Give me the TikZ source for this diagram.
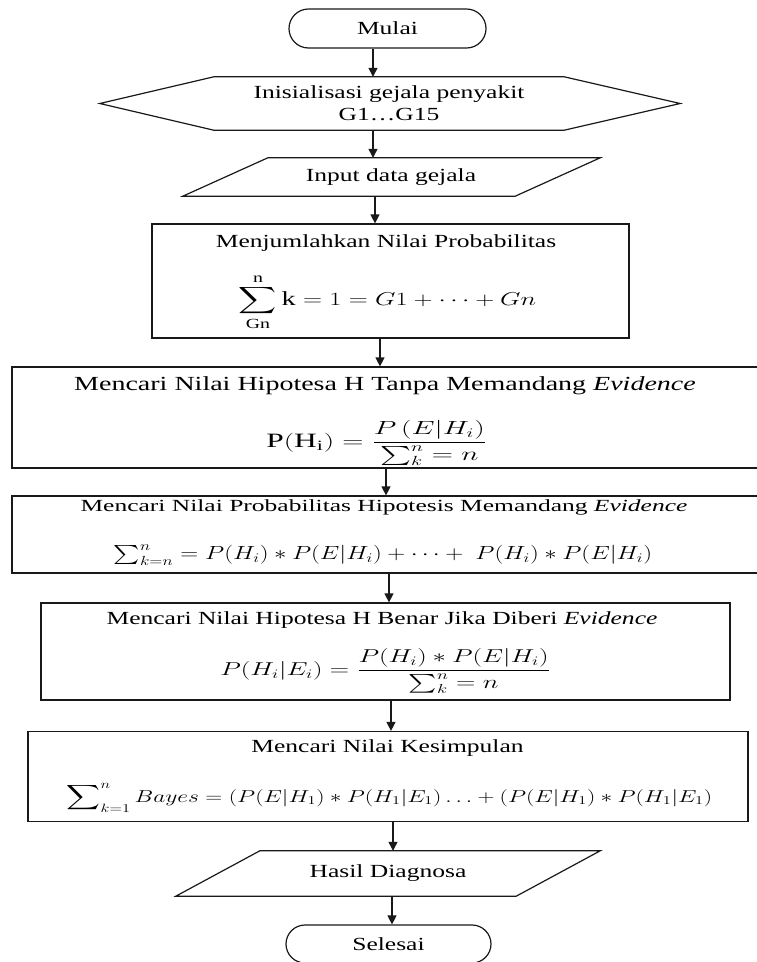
\documentclass[tikz,border=0pt]{standalone}
\usepackage{fontspec}
\usepackage{amsmath}
\usepackage{graphicx}
\setmainfont{Liberation Serif}
\usetikzlibrary{arrows.meta,calc,shapes.misc}
\newcommand{\sx}[1]{\scalebox{1.38}[1]{#1}}
\begin{document}
\begin{tikzpicture}[x=1pt,y=-1pt,
  lbl/.style={inner sep=0pt, font=\fontsize{18.5}{22}\selectfont},
  frame/.style={draw=black!90, line width=1.2pt, inner sep=0pt, font=\fontsize{18.5}{22}\selectfont},
  outline/.style={draw=black!90, line width=1.2pt, line join=miter},
  arr/.style={-{Triangle[length=9pt,width=9pt]}, line width=1.2pt, draw=black!90, fill=black!90},
]
\useasboundingbox (0,0) rectangle (757,962);
\fill[white] (0,0) rectangle (757,962);

% axis coordinates for connectors
\coordinate (a1) at (373,0);
\coordinate (a2) at (373,0);
\coordinate (a3) at (375,0);
\coordinate (a4) at (380,0);
\coordinate (a5) at (386,0);
\coordinate (a6) at (389,0);
\coordinate (a7) at (391,0);
\coordinate (a8) at (393,0);
\coordinate (a9) at (392,0);

% Start
\node[frame, rounded rectangle, minimum width=197pt, minimum height=39pt] (mulai) at (387.5,28.5) {\sx{Mulai}};

% Hexagon
\node[lbl, align=center, minimum width=350pt, minimum height=53pt] (hex) at (389,103.5)
  {\sx{Inisialisasi gejala penyakit}\\\sx{G1…G15}};
\draw[outline] (hex.north west) -- (hex.north east) -- ($(hex.east)+(116,0)$) -- (hex.south east)
  -- (hex.south west) -- ($(hex.west)+(-114,0)$) -- cycle;

% Input parallelogram
\node[lbl, minimum width=332pt, minimum height=38pt] (inp) at (391,177) {\sx{Input data gejala}};
\draw[outline] ($(inp.north west)+(43,0)$) -- ($(inp.north east)+(43,0)$) -- ($(inp.south east)+(-42,0)$)
  -- ($(inp.south west)+(-42,0)$) -- cycle;

% Box 1
\node[frame, minimum width=477pt, minimum height=114pt] (b1) at (390.5,281) {};
\node[lbl] (b1t) at (386,243) {\sx{Menjumlahkan Nilai Probabilitas}};
\node[lbl] (b1f) at (387.5,302) {\scalebox{1.53}[1.08]{$\displaystyle\sum_{\mathrm{Gn}}^{\mathrm{n}}\mathrm{k}=1=G1+\cdots+Gn$}};

% Box 2
\node[frame, minimum width=750pt, minimum height=101pt] (b2) at (387,417.5) {};
\node[lbl, font=\fontsize{20}{24}\selectfont] (b2t) at (385,386) {\scalebox{1.4}[1]{Mencari Nilai Hipotesa H Tanpa Memandang \textit{Evidence}}};
\node[lbl] (b2f) at (376.5,443) {\scalebox{1.7}[1.1]{$\mathrm{P(H_{i})}=\dfrac{P\,(E|H_{i})}{\sum_{k}^{n}=n}$}};

% Box 3
\node[frame, minimum width=750pt, minimum height=77pt] (b3) at (387,534.5) {};
\node[lbl, font=\fontsize{17}{20}\selectfont] (b3t) at (384,507) {\scalebox{1.5}[1]{Mencari Nilai Probabilitas Hipotesis Memandang \textit{Evidence}}};
\node[lbl] (b3f) at (383,555) {\scalebox{1.44}[1.1]{$\sum_{k=n}^{n}=P(H_{i})*P(E|H_{i})+\cdots+\ P(H_{i})*P(E|H_{i})$}};

% Box 4
\node[frame, minimum width=689pt, minimum height=97pt] (b4) at (385.5,651.5) {};
\node[lbl] (b4t) at (382,620) {\sx{Mencari Nilai Hipotesa H Benar Jika Diberi \textit{Evidence}}};
\node[lbl] (b4f) at (385.5,671) {\scalebox{1.55}[1.08]{$P(H_{i}|E_{i})=\dfrac{P(H_{i})*P(E|H_{i})}{\sum_{k}^{n}=n}$}};

% Box 5
\node[frame, minimum width=720pt, minimum height=90pt] (b5) at (388,776.5) {};
\node[lbl] (b5t) at (387.5,748) {\sx{Mencari Nilai Kesimpulan}};
\node[lbl] (b5f) at (389.5,798) {\scalebox{1.36}[1]{$\displaystyle\sum\nolimits_{k=1}^{n}Bayes=(P(E|H_{1})*P(H_{1}|E_{1})\ldots+(P(E|H_{1})*P(H_{1}|E_{1})$}};

% Output parallelogram
\node[lbl, minimum width=340pt, minimum height=45pt] (hasil) at (388,873.5) {\sx{Hasil Diagnosa}};
\draw[outline] ($(hasil.north west)+(42,0)$) -- ($(hasil.north east)+(42,0)$) -- ($(hasil.south east)+(-42,0)$)
  -- ($(hasil.south west)+(-42,0)$) -- cycle;

% End
\node[frame, rounded rectangle, minimum width=205pt, minimum height=38pt] (selesai) at (388.5,944) {\sx{Selesai}};

% Connectors
\draw[arr] (mulai.south -| a1) -- (hex.north -| a1);
\draw[arr] (hex.south -| a2) -- (inp.north -| a2);
\draw[arr] (inp.south -| a3) -- (b1.north -| a3);
\draw[arr] (b1.south -| a4) -- (b2.north -| a4);
\draw[arr] (b2.south -| a5) -- (b3.north -| a5);
\draw[arr] (b3.south -| a6) -- (b4.north -| a6);
\draw[arr] (b4.south -| a7) -- (b5.north -| a7);
\draw[arr] (b5.south -| a8) -- (hasil.north -| a8);
\draw[arr] (hasil.south -| a9) -- (selesai.north -| a9);
\end{tikzpicture}
\end{document}
